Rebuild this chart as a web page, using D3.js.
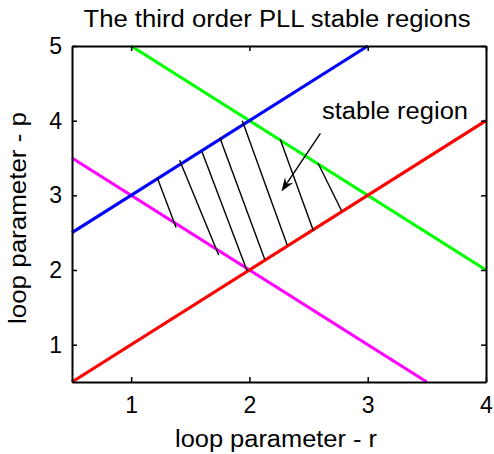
<!DOCTYPE html>
<html>
<head>
<meta charset="utf-8">
<script src="https://cdn.jsdelivr.net/npm/d3@7"></script>
<style>
  body { margin: 0; background: #fff; }
  text { font-family: "Liberation Sans", Arial, sans-serif; fill: #000; }
</style>
</head>
<body>
<script>
// axis ticks
const xTicks = [1, 2, 3, 4];
const yTicks = [1, 2, 3, 4, 5];

// boundary lines of the stable region (start / end in r,p)
const lineColors = ["#ff00ff", "#00ff00", "#0000ff", "#ff0000"];
const lineR = [[0.5, 3.5], [1, 4], [0.5, 3], [0.5, 4]];
const lineP = [[3.5, 0.5], [5, 2], [2.5, 5], [0.5, 4]];

// hatch strokes inside the region
const hatchR1 = [1.22, 1.41, 1.60, 1.75, 1.94, 2.26, 2.58];
const hatchP1 = [3.24, 3.47, 3.58, 3.77, 4.00, 3.75, 3.43];
const hatchR2 = [1.38, 1.74, 1.98, 2.13, 2.32, 2.54, 2.78];
const hatchP2 = [2.57, 2.20, 1.99, 2.14, 2.33, 2.53, 2.79];

// annotation arrow
const arrowR = [2.60, 2.27];
const arrowP = [3.83, 3.05];

var width = 494;
var height = 454;
var margin = { top: 46, right: 8, bottom: 72, left: 72 };

var svg = d3.select("body")
  .append("svg")
  .attr("width", width)
  .attr("height", height);

var x = d3.scaleLinear().domain([0.5, 4]).range([margin.left, width - margin.right]);
var y = d3.scaleLinear().domain([0.5, 5]).range([height - margin.bottom, margin.top]);

// colored boundary lines
lineColors.forEach(function(c, i) {
  svg.append("line")
    .attr("x1", x(lineR[i][0]))
    .attr("y1", y(lineP[i][0]))
    .attr("x2", x(lineR[i][1]))
    .attr("y2", y(lineP[i][1]))
    .attr("stroke", c)
    .attr("stroke-width", 3.2);
});

// hatch
svg.append("g")
  .selectAll("line")
  .data(hatchR1)
  .enter()
  .append("line")
  .attr("x1", function(d, i) { return x(hatchR1[i]); })
  .attr("y1", function(d, i) { return y(hatchP1[i]); })
  .attr("x2", function(d, i) { return x(hatchR2[i]); })
  .attr("y2", function(d, i) { return y(hatchP2[i]); })
  .attr("stroke", "#000")
  .attr("stroke-width", 1.4);

// arrow
var ax1 = x(arrowR[0]), ay1 = y(arrowP[0]);
var ax2 = x(arrowR[1]), ay2 = y(arrowP[1]);
var len = Math.hypot(ax2 - ax1, ay2 - ay1);
var ux = (ax2 - ax1) / len, uy = (ay2 - ay1) / len;
var hl = 14, hw = 5;
svg.append("line")
  .attr("x1", ax1).attr("y1", ay1)
  .attr("x2", ax2 - ux * 8).attr("y2", ay2 - uy * 8)
  .attr("stroke", "#000")
  .attr("stroke-width", 1.4);
svg.append("path")
  .attr("d", "M" + ax2 + "," + ay2 +
    "L" + (ax2 - ux * hl - uy * hw) + "," + (ay2 - uy * hl + ux * hw) +
    "L" + (ax2 - ux * 9) + "," + (ay2 - uy * 9) +
    "L" + (ax2 - ux * hl + uy * hw) + "," + (ay2 - uy * hl - ux * hw) + "Z")
  .attr("fill", "#000");

svg.append("text")
  .attr("x", 322)
  .attr("y", 119)
  .attr("font-size", 23)
  .attr("textLength", 146)
  .attr("lengthAdjust", "spacingAndGlyphs")
  .text("stable region");

// axes (box with inward ticks)
var fmt = d3.format("d");
var gx = svg.append("g")
  .attr("transform", "translate(0," + y(0.5) + ")")
  .call(d3.axisBottom(x).tickValues(xTicks).tickFormat(fmt).tickSizeInner(-5).tickSizeOuter(0).tickPadding(15));
var gxt = svg.append("g")
  .attr("transform", "translate(0," + y(5) + ")")
  .call(d3.axisTop(x).tickValues(xTicks).tickFormat("").tickSizeInner(-5).tickSizeOuter(0));
var gy = svg.append("g")
  .attr("transform", "translate(" + x(0.5) + ",0)")
  .call(d3.axisLeft(y).tickValues(yTicks).tickFormat(fmt).tickSizeInner(-5).tickSizeOuter(0).tickPadding(10));
var gyr = svg.append("g")
  .attr("transform", "translate(" + x(4) + ",0)")
  .call(d3.axisRight(y).tickValues(yTicks).tickFormat("").tickSizeInner(-5).tickSizeOuter(0));

[gx, gxt, gy, gyr].forEach(function(g) {
  g.select(".domain").attr("stroke", "#000").attr("stroke-width", 2);
  g.selectAll(".tick line").attr("stroke", "#000").attr("stroke-width", 1.5);
  g.selectAll("text")
    .attr("font-size", 23)
    .attr("font-family", "'Liberation Sans', Arial, sans-serif")
    .attr("fill", "#000");
});

// titles
svg.append("text")
  .attr("x", 277)
  .attr("y", 27)
  .attr("text-anchor", "middle")
  .attr("font-size", 23)
  .attr("textLength", 387)
  .attr("lengthAdjust", "spacingAndGlyphs")
  .text("The third order PLL stable regions");

svg.append("text")
  .attr("x", 276)
  .attr("y", 447)
  .attr("text-anchor", "middle")
  .attr("font-size", 23)
  .attr("textLength", 202)
  .attr("lengthAdjust", "spacingAndGlyphs")
  .text("loop parameter - r");

svg.append("text")
  .attr("transform", "translate(26,218) rotate(-90)")
  .attr("text-anchor", "middle")
  .attr("font-size", 23)
  .attr("textLength", 212)
  .attr("lengthAdjust", "spacingAndGlyphs")
  .text("loop parameter - p");
</script>
</body>
</html>
